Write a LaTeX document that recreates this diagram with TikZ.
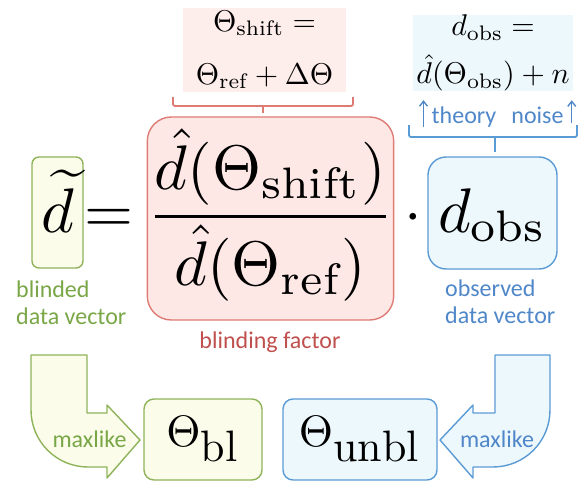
\documentclass[tikz,border=0pt]{standalone}
\usepackage{fix-cm}
\usepackage{fontspec}
\usetikzlibrary{arrows.meta}
\newfontfamily\calib{Carlito}

\definecolor{grline}{HTML}{8FB35A}
\definecolor{grfill}{HTML}{FBFDEA}
\definecolor{grtext}{HTML}{79A646}
\definecolor{rdline}{HTML}{DE7B75}
\definecolor{rdfill}{HTML}{FDE8E6}
\definecolor{pkfill}{HTML}{FDEDEB}
\definecolor{rdtext}{HTML}{C0504D}
\definecolor{blline}{HTML}{5B9BD5}
\definecolor{blfill}{HTML}{EDF8FD}
\definecolor{bltext}{HTML}{4F87C9}

% formulas are set at 10pt and blown up
\newcommand{\eqbig}[1]{\scalebox{6.3}{#1}}
\newcommand{\eqtop}[1]{\scalebox{3}{#1}}
\newcommand{\eqres}[1]{\scalebox{4.4}{#1}}

\begin{document}
\begin{tikzpicture}[
          x=1pt, y=-1pt,
          box/.style={draw, line width=1.4pt, inner sep=0pt, rounded corners=10pt},
          gbox/.style={box, draw=grline, fill=grfill},
          rbox/.style={box, draw=rdline, fill=rdfill},
          bbox/.style={box, draw=blline, fill=blfill},
          topmath/.style={font=\fontsize{10}{53}\selectfont, inner sep=0pt, align=center},
          lbl/.style={font=\calib\fontsize{24}{27}\selectfont, inner sep=0pt},
          gtxt/.style={lbl, text=grtext},
          rtxt/.style={lbl, text=rdtext},
          btxt/.style={lbl, text=bltext},
          rbrace/.style={draw=rdline, line width=1.8pt, rounded corners=2pt},
          bbrace/.style={draw=blline, line width=1.8pt, rounded corners=2pt},
          uparr/.style={draw=bltext, line width=1.4pt, -{Straight Barb[length=5pt,width=8pt]}},
          garrow/.style={draw=grline, fill=grfill, line width=1.4pt, line join=round},
          barrow/.style={draw=blline, fill=blfill, line width=1.4pt, line join=round},
        ]
          \useasboundingbox (0,0) rectangle (579,482);

          % Definitions on top
          \node[topmath, fill=pkfill, minimum width=163pt, minimum height=84pt] (shiftdef) at (264.5,50)
            {\eqtop{$\Theta_{\mathrm{shift}} =$}\\\eqtop{$\Theta_{\mathrm{ref}} + \Delta\Theta$}};
          \node[topmath, fill=blfill, minimum width=160pt, minimum height=76pt, font=\fontsize{10}{48}\selectfont] (obsdef) at (493,53)
            {\eqtop{$d_{\mathrm{obs}} =$}\\\eqtop{$\hat{d}(\Theta_{\mathrm{obs}}) + n$}};

          \node[btxt, anchor=base] (theory) at (464,123) {theory};
          \node[btxt, anchor=base] (noise) at (537.5,123) {noise};
          \draw[uparr] ([xshift=-8pt]theory.south west) -- ([xshift=-8pt,yshift=6pt]theory.north west);
          \draw[uparr] ([xshift=8pt]noise.south east) -- ([xshift=8pt,yshift=6pt]noise.north east);

          % Main equation
          \node[gbox, rounded corners=7pt, minimum width=51pt, text height=75pt, text depth=36pt,
                anchor=base] (dtilde) at (57.5,232) {\eqbig{$\widetilde{d}$}};
          \node[inner sep=0pt, anchor=base] (eq) at (109,232) {\eqbig{$=$}};
          \node[rbox, rounded corners=24pt, minimum width=245pt, text height=115pt, text depth=88pt,
                anchor=base] (factor) at (270.5,232)
            {\eqbig{$\displaystyle\frac{\hat{d}(\Theta_{\mathrm{shift}})}{\hat{d}(\Theta_{\mathrm{ref}})}$}};
          \node[inner sep=0pt, anchor=base] (dot) at (413,232) {\eqbig{$\cdot$}};
          \node[bbox, rounded corners=18pt, minimum width=129pt, text height=75pt, text depth=37pt,
                anchor=base] (dobs) at (492.5,232) {\eqbig{$d_{\mathrm{obs}}$}};

          % Brackets
          \draw[rbrace] (173,97) -- (173,106) -- (353,106) -- (353,97);
          \draw[rbrace] (263,106) -- (263,113);
          \draw[bbrace] (409,125) -- (409,137) -- (577,137) -- (577,125);
          \draw[bbrace] (495,137) -- (495,152);

          % Labels
          \node[gtxt, anchor=north west, align=left] (blindlbl) at (16,281) {blinded\\data vector};
          \node[rtxt, anchor=base] (factorlbl) at (270,348) {blinding factor};
          \node[btxt, anchor=north west, align=left] (obslbl) at (445,280) {observed\\data vector};

          % Block arrows
          \draw[garrow] (31,355) -- (87,355) -- (87,413) -- (107,413) -- (107,405) -- (140,440)
            -- (107,478) -- (107,467) -- (88,467) .. controls (56.5,467) and (31,441.5) .. (31,410) -- cycle;
          \draw[barrow] (550,355) -- (495,355) -- (495,413) -- (473,413) -- (473,405) -- (440,440)
            -- (473,478) -- (473,467) -- (493,467) .. controls (524.5,467) and (550,441.5) .. (550,410) -- cycle;
          \node[gtxt, anchor=base] (mlgreen) at (89.5,447) {maxlike};
          \node[btxt, anchor=base] (mlblue) at (497,447) {maxlike};

          % Results
          \node[gbox, minimum width=118pt, minimum height=81pt] (thbl) at (203,439.5)
            {\eqres{$\Theta_{\textstyle\mathrm{bl}}$}};
          \node[bbox, minimum width=154pt, minimum height=81pt] (thunbl) at (360,439.5)
            {\eqres{$\Theta_{\textstyle\mathrm{unbl}}$}};
        \end{tikzpicture}
\end{document}
